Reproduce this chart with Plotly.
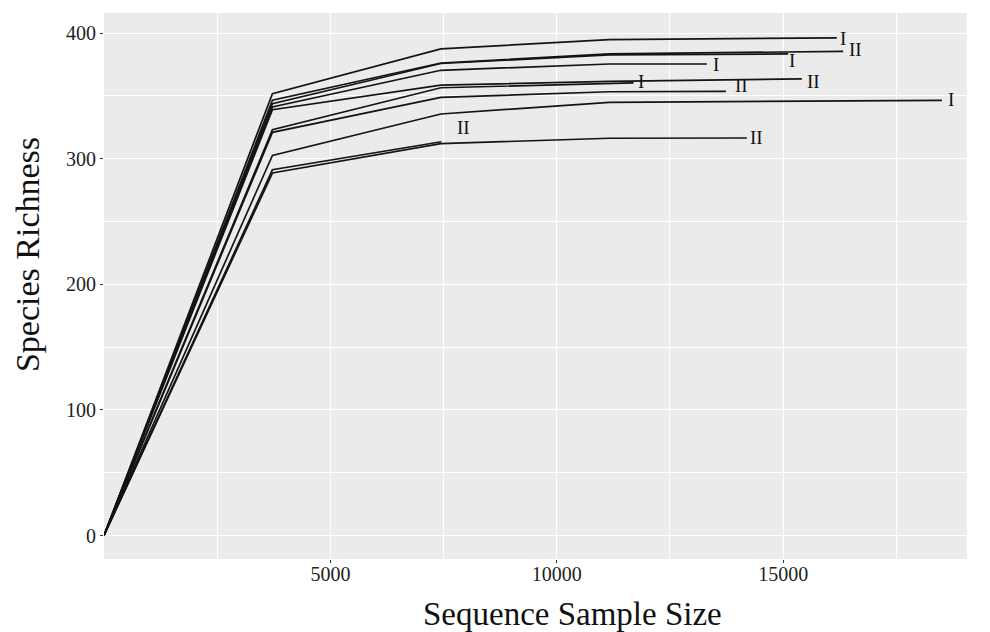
import plotly.graph_objects as go

# ---- data ----
sample_groups = ["I", "II", "I", "I", "II", "I", "II", "I", "II", "II"]
depth_steps = [0, 3720, 7440, 11160]
sample_sizes = [16185, 16325, 15110, 13315, 15412, 11695, 13735, 18506, 7450, 14199]
rich_0 = [0, 0, 0, 0, 0, 0, 0, 0, 0, 0]
rich_3720 = [351.8, 346.5, 343.8, 341.2, 339.0, 323.1, 321.0, 302.6, 291.2, 288.6]
rich_7440 = [387.4, 376.2, 375.8, 370.4, 358.5, 356.5, 348.8, 335.6, None, 312.0]
rich_11160 = [394.8, 383.4, 382.6, 375.4, 361.6, 360.0, 353.3, 344.9, None, 316.3]
rich_final = [396.2, 385.5, 383.4, 375.4, 363.5, 360.3, 353.6, 346.5, 313.5, 316.5]
x_ticks = [5000, 10000, 15000]
y_ticks = [0, 100, 200, 300, 400]

# label placement offsets (data units) relative to curve end
label_dx = [133, 264, 95, 199, 250, 164, 353, 192, 486, 205]
label_dy = [-0.6, 1.4, -5.3, -0.5, -2.4, 0.8, 4.5, 0.5, 11.7, 0]

FONT = "Liberation Serif, Times New Roman, serif"

fig = go.Figure()
step_rich = [rich_0, rich_3720, rich_7440, rich_11160]
for i in range(len(sample_sizes)):
    xs, ys = [], []
    for s, col in zip(depth_steps, step_rich):
        if col[i] is not None and s < sample_sizes[i]:
            xs.append(s)
            ys.append(col[i])
    xs.append(sample_sizes[i])
    ys.append(rich_final[i])
    fig.add_trace(go.Scatter(x=xs, y=ys, mode="lines",
                             line=dict(color="#141414", width=1.7),
                             showlegend=False, hoverinfo="skip"))
    fig.add_annotation(x=sample_sizes[i] + label_dx[i], y=rich_final[i] + label_dy[i],
                       text=sample_groups[i], showarrow=False,
                       xanchor="center", yanchor="middle",
                       font=dict(family=FONT, size=19, color="#111"))

# axis titles (placed as paper annotations to match reference offsets)
fig.add_annotation(xref="paper", yref="paper", x=0.5423, y=-0.1, text="Sequence Sample Size",
                   showarrow=False, xanchor="center", yanchor="middle",
                   font=dict(family=FONT, size=33, color="#111"))
fig.add_annotation(xref="paper", yref="paper", x=-0.0880, y=0.5568, text="Species Richness",
                   showarrow=False, xanchor="center", yanchor="middle", textangle=-90,
                   font=dict(family=FONT, size=34, color="#111"))

fig.update_layout(
    width=982, height=624,
    margin=dict(l=96, r=23, t=5, b=73),
    paper_bgcolor="white", plot_bgcolor="#EBEBEB",
    font=dict(family=FONT, color="#222"),
)
fig.update_xaxes(
    range=[0, 19060], tickvals=x_ticks, ticktext=[str(v) for v in x_ticks],
    showgrid=True, gridcolor="white", gridwidth=1.3,
    minor=dict(tickvals=[2500, 7500, 12500, 17500], showgrid=True, gridcolor="white", gridwidth=0.6, ticks=""),
    ticks="outside", ticklen=3, tickcolor="#333", tickwidth=1,
    tickfont=dict(family=FONT, size=20, color="#222"),
    ticklabelstandoff=-6,
    zeroline=False, showline=False, automargin=False,
)
fig.update_yaxes(
    range=[-18.7, 416], tickvals=y_ticks, ticktext=[str(v) for v in y_ticks],
    showgrid=True, gridcolor="white", gridwidth=1.3,
    minor=dict(tickvals=[50, 150, 250, 350], showgrid=True, gridcolor="white", gridwidth=0.6, ticks=""),
    ticks="outside", ticklen=3, tickcolor="#333", tickwidth=1,
    tickfont=dict(family=FONT, size=20, color="#222"),
    zeroline=False, showline=False, automargin=False,
)

fig.write_html("out.html")
